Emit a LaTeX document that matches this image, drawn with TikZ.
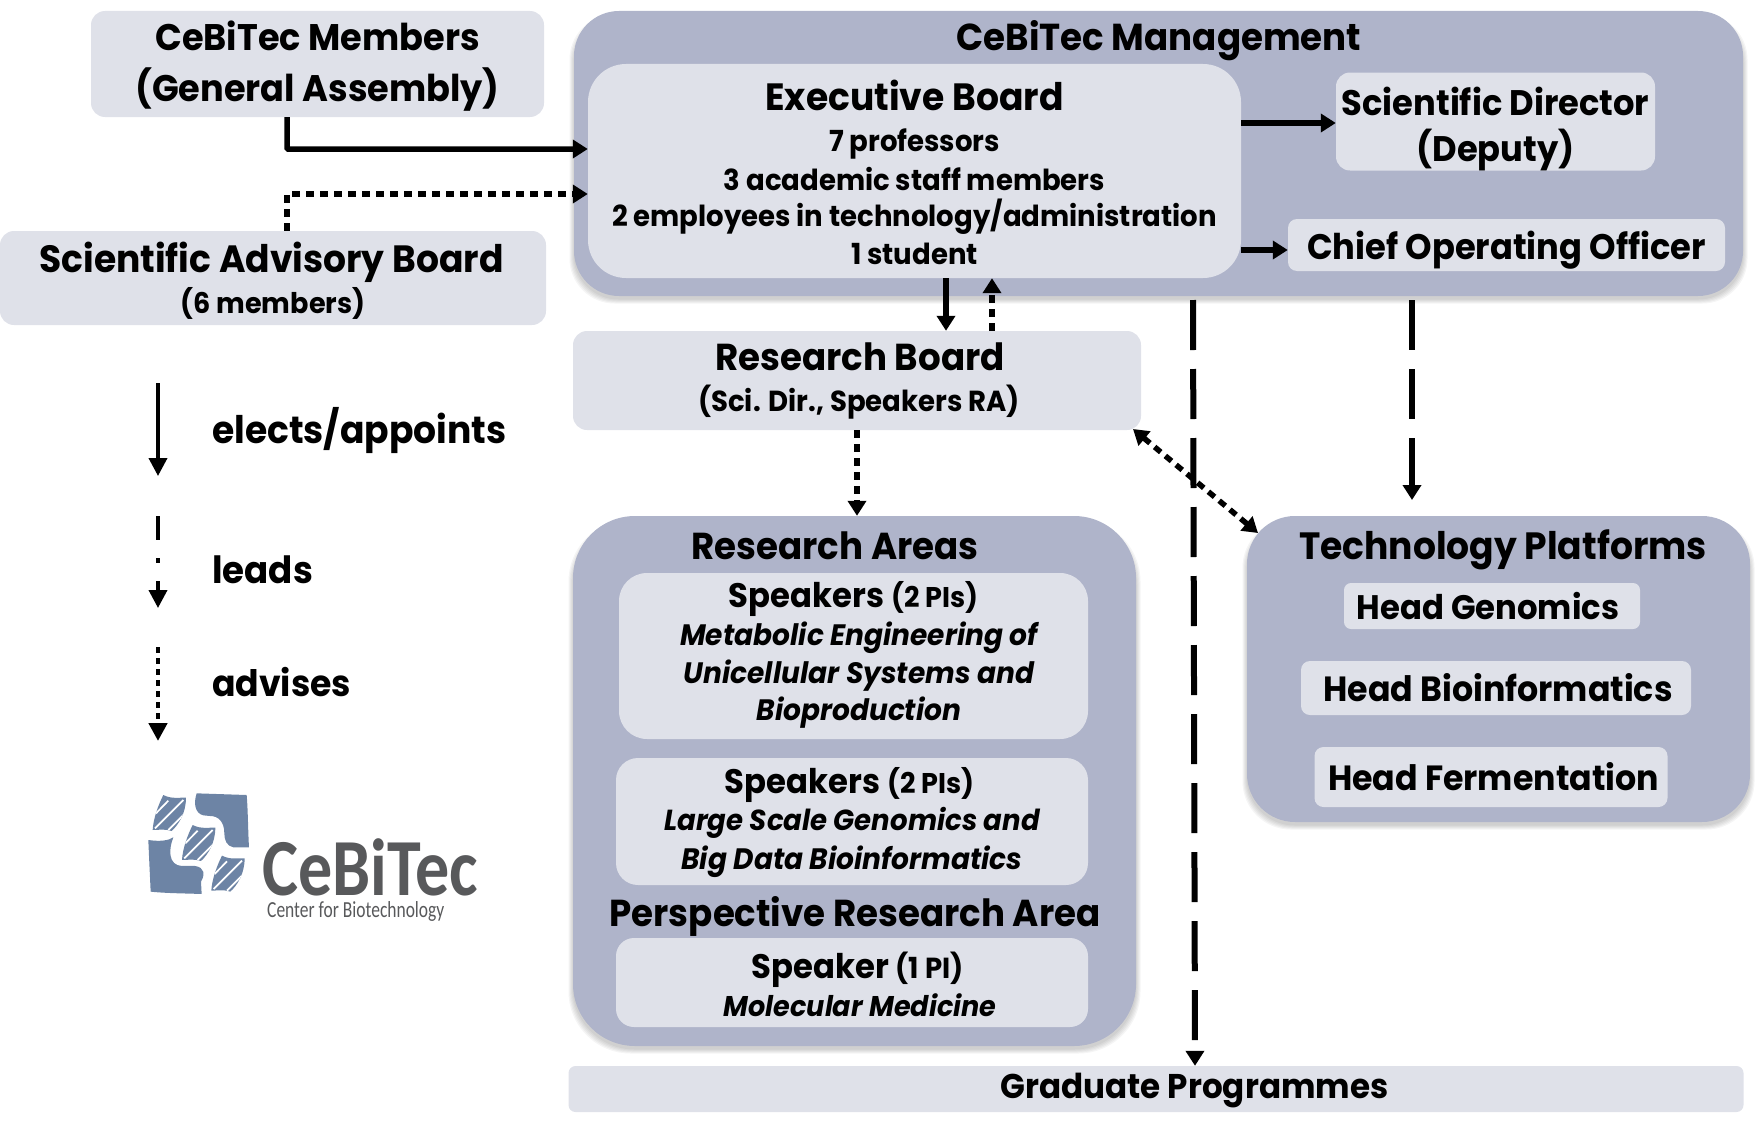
\documentclass[tikz,border=0pt]{standalone}
\usepackage{fontspec}
\setmainfont{Poppins}[FakeStretch=0.95]
\usetikzlibrary{arrows.meta}
\definecolor{darkbox}{HTML}{AFB4CA}
\definecolor{lightbox}{HTML}{DFE1E9}
\definecolor{logoblue}{HTML}{6D84A5}
\definecolor{logogray}{HTML}{58595B}
\newfontfamily\logofont{Carlito}
\newcommand{\fsz}[1]{\fontsize{#1}{#1}\selectfont\bfseries}
\newcommand{\tdn}[2]{\raisebox{-#1pt}[\height][\depth]{\makebox[0pt]{\parbox{900pt}{\centering #2}}}}
\tikzset{
  x=1pt,y=-1pt,
  lbox/.style 2 args={rectangle,rounded corners=14pt,fill=lightbox,minimum width=#1,minimum height=#2,inner sep=0pt,text=black},
  dbox/.style 2 args={rectangle,fill=darkbox,minimum width=#1,minimum height=#2,inner sep=0pt},
  txt/.style={inner sep=0pt,align=center,text=black},
  tip/.style={-{Triangle[length=15pt,width=18pt]}},
  solidarrow/.style={draw=black,line width=5.5pt,tip},
  dotarrow/.style={draw=black,line width=5.5pt,tip,dash pattern=on 8pt off 6pt},
  longarrow/.style={draw=black,line width=6pt,tip,dash pattern=on 50pt off 19pt},
  legendline/.style={draw=black,line width=3.8pt,-{Triangle[length=18pt,width=18pt]}},
}
\newcommand{\softshadow}[5]{%
  \foreach \g in {9,7,5,3,1}{%
    \fill[black,opacity=0.04,rounded corners=#5pt] (#1-\g*0.5,#2+2-\g*0.5+6) rectangle (#3+\g*0.5,#4+\g*0.5+3);}%
}
\begin{document}
\begin{tikzpicture}
\useasboundingbox (0,0) rectangle (1758,1132);
% containers
\softshadow{574}{11}{1743}{296}{45}
\softshadow{573}{516}{1136}{1046}{62}
\softshadow{1247}{516}{1750}{822}{48}
\node[dbox={1169pt}{285pt},rounded corners=45pt] (mgmt) at (1158.5,153.5) {};
\node[dbox={563pt}{530pt},rounded corners=62pt] (areas) at (854.5,781) {};
\node[dbox={503pt}{306pt},rounded corners=48pt] (platforms) at (1498.5,669) {};
% left boxes
\node[lbox={453pt}{106pt}] (members) at (317.5,64) {\tdn{1.7}{\fsz{37}CeBiTec Members\\[14pt]\fsz{37}(General Assembly)}};
\node[lbox={546pt}{94pt}] (sab) at (273,278) {\tdn{2.8}{\fsz{38}\hspace*{-3pt}Scientific Advisory Board\\[3.7pt]\fsz{28.5}(6 members)}};
% management
\node[txt] (mgmtt) at (1159,41) {\fsz{37.5}CeBiTec Management};
\node[lbox={653pt}{214pt},rounded corners=38pt] (exec) at (914.5,171) {\tdn{1.3}{\fsz{38}Executive Board\\[12.5pt]\fsz{29}7 professors\\[6.8pt]\fsz{29}3 academic staff members\\[7pt]\fsz{29}2 employees in technology/administration\\[8pt]\fsz{29}1 student}};
\node[lbox={319pt}{98pt}] (scidir) at (1495.5,121.5) {\tdn{7.2}{\fsz{35.5}Scientific Director\\[10.6pt]\fsz{35.5}(Deputy)}};
\node[lbox={437pt}{52pt},rounded corners=9pt] (coo) at (1506.5,245) {\tdn{5.6}{\fsz{35.5}Chief Operating Officer}};
% research board
\node[lbox={568pt}{99pt}] (rb) at (857,380.5) {\tdn{0.6}{\fsz{37.5}\hspace*{6pt}Research Board\\[11.5pt]\fsz{29}\hspace*{4pt}(Sci. Dir., Speakers RA)}};
% research areas
\node[txt] (areast) at (835,546) {\fsz{37.5}Research Areas};
\node[lbox={469pt}{166pt},rounded corners=28pt] (sp1) at (853.5,656) {\tdn{-1.1}{\fsz{34}Speakers {\fsz{28.5}(2 PIs)}\\[5pt]\fsz{29.5}\itshape\hspace*{11pt}Metabolic Engineering of\\[5pt]\fsz{29.5}\itshape\hspace*{11pt}Unicellular Systems and\\[5pt]\fsz{29.5}\itshape\hspace*{11pt}Bioproduction}};
\node[lbox={472pt}{127pt},rounded corners=22pt] (sp2) at (852,821.5) {\tdn{1.1}{\fsz{34}\hspace*{-5pt}Speakers {\fsz{28.5}(2 PIs)}\\[4pt]\fsz{29}\itshape Large Scale Genomics and\\[6pt]\fsz{29.5}\itshape Big Data Bioinformatics}};
\node[txt] (perspt) at (855,916.5) {\fsz{37.5}Perspective Research Area};
\node[lbox={472pt}{89pt},rounded corners=18pt] (sp3) at (852,982.5) {\tdn{1.6}{\fsz{34}\hspace*{11pt}Speaker {\fsz{29}(1 PI)}\\[5pt]\fsz{28.5}\itshape\hspace*{16pt}Molecular Medicine}};
% technology platforms
\node[txt] (platt) at (1503,549.5) {\fsz{38}Technology Platforms};
\node[lbox={296pt}{46pt},rounded corners=7pt] (hg) at (1492,606) {\tdn{0}{\hspace*{-8pt}\fsz{34}Head Genomics}};
\node[lbox={390pt}{54pt},rounded corners=9pt] (hb) at (1496,688) {\tdn{0}{\hspace*{4pt}\fsz{35}Head Bioinformatics}};
\node[lbox={353pt}{60pt},rounded corners=9pt] (hf) at (1491,777) {\tdn{0}{\hspace*{5pt}\fsz{35}Head Fermentation}};
% graduate
\node[lbox={1175pt}{46pt},rounded corners=7pt] (grad) at (1156,1089) {\tdn{1.1}{\hspace*{77pt}\fsz{34.3}Graduate Programmes}};
% connectors
\draw[solidarrow,rounded corners=1pt] (members.south -| 287,0) |- (exec.west |- 0,149);
\draw[dotarrow] (sab.north -| 287,0) |- (exec.west |- 0,194);
\draw[solidarrow] (exec.east |- 0,123) -- (scidir.west |- 0,123);
\draw[solidarrow] (exec.east |- 0,250) -- (coo.west |- 0,250);
\draw[solidarrow] (exec.south -| 946,0) -- (rb.north -| 946,0);
\draw[dotarrow] (rb.north -| 992,0) -- (exec.south -| 992,0);
\draw[dotarrow] (rb.south -| 857,0) -- (areas.north -| 857,0);
\draw[dotarrow,{Triangle[length=15pt,width=18pt]}-{Triangle[length=15pt,width=18pt]}] (1133,429) coordinate (rbc) -- (1258,533) coordinate (tpc);
\draw[longarrow] (1193,300) coordinate (mgc) -- (grad.north -| 1195,0);
\draw[longarrow] (1412,300) coordinate (mgd) -- (1412,500) coordinate (tpt);
% legend
\coordinate (l1a) at (158,383); \coordinate (l1b) at (158,476);
\coordinate (l2a) at (158,516); \coordinate (l2b) at (158,608);
\coordinate (l3a) at (158,647); \coordinate (l3b) at (158,741);
\draw[legendline] (l1a) -- (l1b);
\draw[legendline,dash pattern=on 24pt off 18pt on 5pt off 18pt on 20pt] (l2a) -- (l2b);
\draw[legendline,line width=4.6pt,dash pattern=on 6pt off 5pt] (l3a) -- (l3b);
\node[txt,anchor=west] (t1) at (212,430) {\fsz{38}elects/appoints};
\node[txt,anchor=west] (t2) at (212,570) {\fsz{37.5}leads};
\node[txt,anchor=west] (t3) at (212,682) {\fsz{36.5}advises};
% logo
\begin{scope}[shift={(100,750)},x=0.3333pt,y=-0.3333pt]
\fill[logoblue] (290,130) -- (440,135) .. controls (444,180) and (444,240) .. (447,292) -- (400,292) .. controls (380,288) and (373,270) .. (373,250) .. controls (373,215) and (355,198) .. (330,198) -- (310,196) .. controls (285,190) and (280,160) .. cycle;
\fill[logoblue] (145,270) .. controls (180,275) and (205,272) .. (220,262) .. controls (205,300) and (205,345) .. (245,348) -- (285,348) .. controls (315,352) and (315,375) .. (303,395) -- (305,432) .. controls (250,430) and (200,430) .. (152,425) .. controls (150,380) and (147,320) .. cycle;
\foreach \ox/\oy in {0/0,88/90,176/182}{
 \begin{scope}[shift={(\ox,\oy)}]
 \begin{scope}
 \clip (190,135) .. controls (215,148) and (240,142) .. (258,143) .. controls (258,190) and (235,225) .. (215,243) .. controls (195,236) and (175,240) .. (158,240) .. controls (160,205) and (175,165) .. cycle;
 \fill[logoblue] (140,120) rectangle (270,250);
 \draw[white,line width=1.7pt] (165,235) -- (250,150) (168,190) -- (205,152) (205,240) -- (255,190);
 \end{scope}
 \end{scope}
}
\end{scope}
\node[inner sep=0pt,text=logogray,anchor=base west] (logot) at (262,895) {\logofont\bfseries\fontsize{81}{81}\selectfont\raisebox{0pt}[\height][0pt]{\scalebox{0.84}[1]{CeBiTec}}};
\node[inner sep=0pt,text=logogray,anchor=base west] (logos) at (267,917) {\logofont\fontsize{23}{23}\selectfont\raisebox{0pt}[12pt][\depth]{\scalebox{0.76}[1]{Center for Biotechnology}}};
\end{tikzpicture}
\end{document}
